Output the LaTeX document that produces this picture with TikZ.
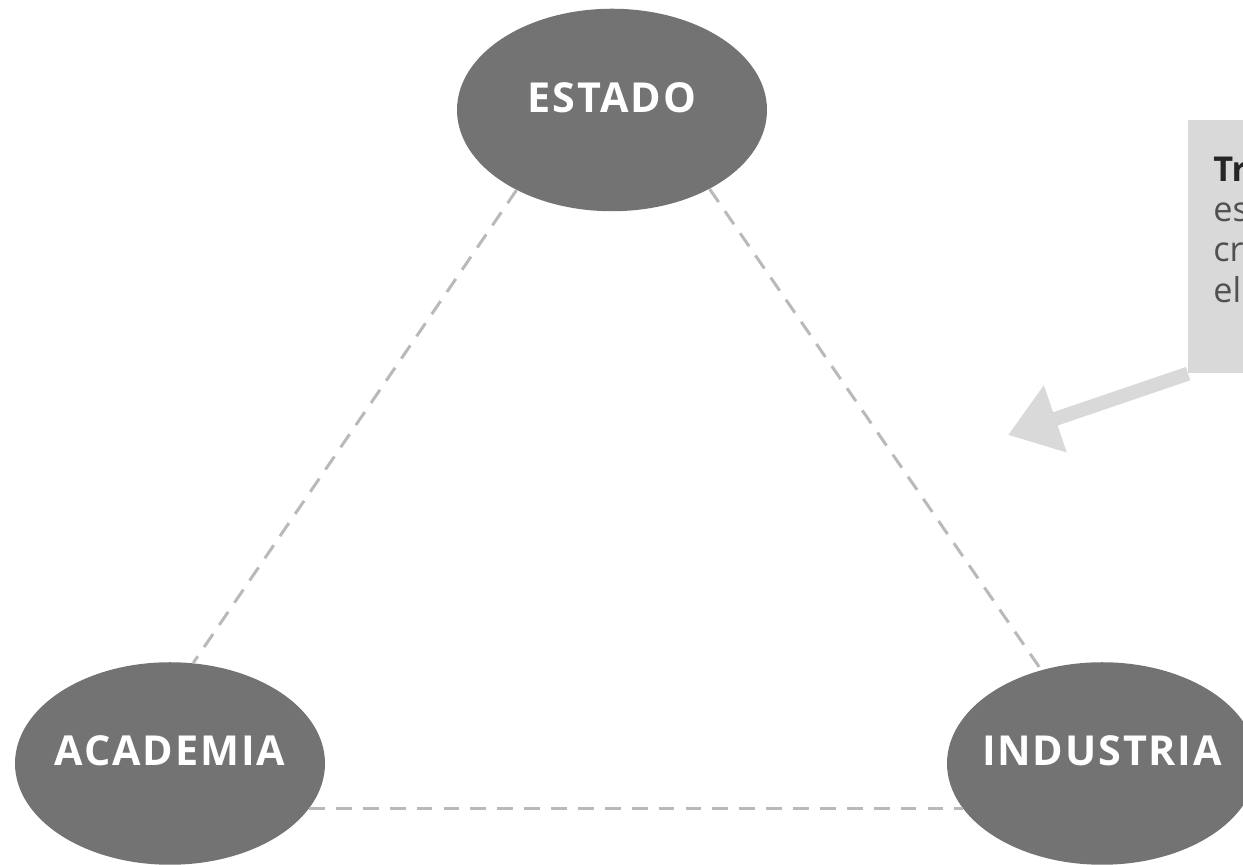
\documentclass[tikz,border=0pt]{standalone}
\usepackage{fontspec}
\setmainfont{Open Sans}
\newfontfamily\ovalfont{Open Sans}[LetterSpace=4.5]
\usepackage{pgf,tikz}
\usetikzlibrary{arrows.meta, shapes}
\usetikzlibrary{positioning}

\definecolor{ovalgray}{RGB}{115,115,115}
\definecolor{linkgray}{RGB}{185,185,185}
\definecolor{notegray}{RGB}{217,217,217}
\definecolor{textgray}{RGB}{80,80,80}

\newcommand{\ovaltext}[1]{\makebox[0pt]{#1}}

\begin{document}
\begin{tikzpicture}
\tikzset{
    sector/.style={ellipse, fill=ovalgray, minimum width=6.2cm, minimum height=4.05cm, inner sep=0,
        text=white, text depth=0.5cm, font=\ovalfont\fontsize{23.5}{27}\selectfont\bfseries},
    link/.style={draw=linkgray, line width=1.7pt, dash pattern=on 9pt off 6.3pt},
    notebox/.style={fill=notegray, minimum width=4cm, minimum height=5.06cm, inner sep=0},
    notetext/.style={inner sep=0, align=left, text=textgray, font=\fontsize{19.5}{22.8}\selectfont},
    pointer/.style={draw=notegray, line width=0.28cm, -{Triangle[length=1cm,width=1.35cm]}},
}
    \useasboundingbox (0,0) rectangle (24.86,17.3);

    % the three sectors
    \node[sector] (E) at (12.24,15.1) {\ovaltext{ESTADO}};
    \node[sector] (A) at (3.4,2.03) {\ovaltext{ACADEMIA}};
    \node[sector] (I) at (22.04,2.03) {\ovaltext{INDUSTRIA}};

    \draw[link] (E.220) -- (A.77);
    \draw[link] (E.321) -- (I.123);
    \draw[link] (A.342) -- (I.198);

    % note on the right
    \node[notebox, anchor=north west] (N) at (23.76,14.9) {};
    \node[notetext, below right=0.74cm and 0.5cm of N.north west]
        (T) {\textcolor{black!85}{\bfseries Tr}\\es\\cr\\el};
    \coordinate (P) at (20.16,8.6);
    \draw[pointer] (N.south west) -- (P);
\end{tikzpicture}
\end{document}
